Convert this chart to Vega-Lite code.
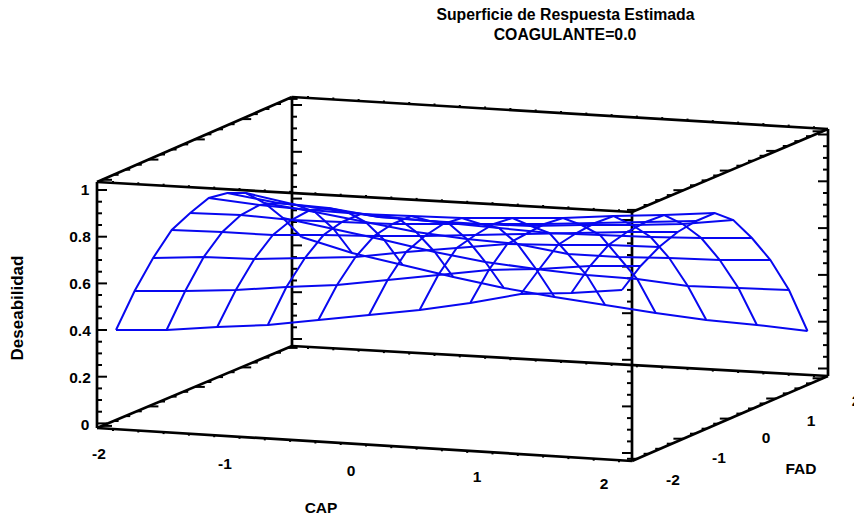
{"$schema":"https://vega.github.io/schema/vega-lite/v6.json","width":854,"height":520,"padding":0,"autosize":{"type":"none"},"background":"white","view":{"stroke":null},
"datasets":{
"mesh":[
{"cap":0,"fad":0,"px":116,"py":330},{"cap":1,"fad":0,"px":166.6,"py":330},{"cap":2,"fad":0,"px":217.2,"py":327},{"cap":3,"fad":0,"px":267.8,"py":325},{"cap":4,"fad":0,"px":318.4,"py":320},{"cap":5,"fad":0,"px":369,"py":315},{"cap":6,"fad":0,"px":419.6,"py":310},{"cap":7,"fad":0,"px":470.2,"py":303},{"cap":8,"fad":0,"px":520.8,"py":294},{"cap":9,"fad":0,"px":571.4,"py":293},{"cap":10,"fad":0,"px":622,"py":290},
{"cap":0,"fad":1,"px":134.6,"py":291},{"cap":1,"fad":1,"px":185.2,"py":291},{"cap":2,"fad":1,"px":235.8,"py":290},{"cap":3,"fad":1,"px":286.4,"py":287},{"cap":4,"fad":1,"px":337,"py":285},{"cap":5,"fad":1,"px":387.6,"py":280},{"cap":6,"fad":1,"px":438.2,"py":275},{"cap":7,"fad":1,"px":488.8,"py":270},{"cap":8,"fad":1,"px":539.4,"py":269},{"cap":9,"fad":1,"px":590,"py":266},{"cap":10,"fad":1,"px":640.6,"py":266},
{"cap":0,"fad":2,"px":153.1,"py":258},{"cap":1,"fad":2,"px":203.7,"py":257},{"cap":2,"fad":2,"px":254.3,"py":259},{"cap":3,"fad":2,"px":304.9,"py":258},{"cap":4,"fad":2,"px":355.5,"py":257},{"cap":5,"fad":2,"px":406.1,"py":252},{"cap":6,"fad":2,"px":456.7,"py":248},{"cap":7,"fad":2,"px":507.3,"py":244},{"cap":8,"fad":2,"px":557.9,"py":245},{"cap":9,"fad":2,"px":608.5,"py":245},{"cap":10,"fad":2,"px":659.1,"py":247},
{"cap":0,"fad":3,"px":171.7,"py":230},{"cap":1,"fad":3,"px":222.3,"py":232},{"cap":2,"fad":3,"px":272.9,"py":235},{"cap":3,"fad":3,"px":323.5,"py":235},{"cap":4,"fad":3,"px":374.1,"py":236},{"cap":5,"fad":3,"px":424.7,"py":236},{"cap":6,"fad":3,"px":475.3,"py":235},{"cap":7,"fad":3,"px":525.9,"py":234},{"cap":8,"fad":3,"px":576.5,"py":233},{"cap":9,"fad":3,"px":627.1,"py":232},{"cap":10,"fad":3,"px":677.7,"py":232},
{"cap":0,"fad":4,"px":190.2,"py":213},{"cap":1,"fad":4,"px":240.8,"py":215},{"cap":2,"fad":4,"px":291.4,"py":220},{"cap":3,"fad":4,"px":342,"py":222},{"cap":4,"fad":4,"px":392.6,"py":224},{"cap":5,"fad":4,"px":443.2,"py":224},{"cap":6,"fad":4,"px":493.8,"py":224},{"cap":7,"fad":4,"px":544.4,"py":224},{"cap":8,"fad":4,"px":595,"py":223},{"cap":9,"fad":4,"px":645.6,"py":222},{"cap":10,"fad":4,"px":696.2,"py":221},
{"cap":0,"fad":5,"px":208.8,"py":198},{"cap":1,"fad":5,"px":259.4,"py":205},{"cap":2,"fad":5,"px":310,"py":210},{"cap":3,"fad":5,"px":360.6,"py":214},{"cap":4,"fad":5,"px":411.2,"py":216},{"cap":5,"fad":5,"px":461.8,"py":218},{"cap":6,"fad":5,"px":512.4,"py":218},{"cap":7,"fad":5,"px":563,"py":218},{"cap":8,"fad":5,"px":613.6,"py":216},{"cap":9,"fad":5,"px":664.2,"py":215},{"cap":10,"fad":5,"px":714.8,"py":213},
{"cap":0,"fad":6,"px":227.3,"py":193},{"cap":1,"fad":6,"px":277.9,"py":203},{"cap":2,"fad":6,"px":328.5,"py":208},{"cap":3,"fad":6,"px":379.1,"py":217},{"cap":4,"fad":6,"px":429.7,"py":221},{"cap":5,"fad":6,"px":480.3,"py":224},{"cap":6,"fad":6,"px":530.9,"py":226},{"cap":7,"fad":6,"px":581.5,"py":225},{"cap":8,"fad":6,"px":632.1,"py":225},{"cap":9,"fad":6,"px":682.7,"py":224},{"cap":10,"fad":6,"px":733.3,"py":220},
{"cap":0,"fad":7,"px":245.9,"py":193},{"cap":1,"fad":7,"px":296.5,"py":205},{"cap":2,"fad":7,"px":347.1,"py":212},{"cap":3,"fad":7,"px":397.7,"py":218},{"cap":4,"fad":7,"px":448.3,"py":223},{"cap":5,"fad":7,"px":498.9,"py":228},{"cap":6,"fad":7,"px":549.5,"py":233},{"cap":7,"fad":7,"px":600.1,"py":235},{"cap":8,"fad":7,"px":650.7,"py":237},{"cap":9,"fad":7,"px":701.3,"py":238},{"cap":10,"fad":7,"px":751.9,"py":238},
{"cap":0,"fad":8,"px":264.4,"py":203},{"cap":1,"fad":8,"px":315,"py":212},{"cap":2,"fad":8,"px":365.6,"py":222},{"cap":3,"fad":8,"px":416.2,"py":232},{"cap":4,"fad":8,"px":466.8,"py":239},{"cap":5,"fad":8,"px":517.4,"py":244},{"cap":6,"fad":8,"px":568,"py":254},{"cap":7,"fad":8,"px":618.6,"py":257},{"cap":8,"fad":8,"px":669.2,"py":258},{"cap":9,"fad":8,"px":719.8,"py":260},{"cap":10,"fad":8,"px":770.4,"py":260},
{"cap":0,"fad":9,"px":283,"py":218},{"cap":1,"fad":9,"px":333.6,"py":229},{"cap":2,"fad":9,"px":384.2,"py":240},{"cap":3,"fad":9,"px":434.8,"py":252},{"cap":4,"fad":9,"px":485.4,"py":262},{"cap":5,"fad":9,"px":536,"py":269},{"cap":6,"fad":9,"px":586.6,"py":275},{"cap":7,"fad":9,"px":637.2,"py":279},{"cap":8,"fad":9,"px":687.8,"py":286},{"cap":9,"fad":9,"px":738.4,"py":288},{"cap":10,"fad":9,"px":789,"py":290},
{"cap":0,"fad":10,"px":301.5,"py":237},{"cap":1,"fad":10,"px":352.1,"py":253},{"cap":2,"fad":10,"px":402.7,"py":265},{"cap":3,"fad":10,"px":453.3,"py":277},{"cap":4,"fad":10,"px":503.9,"py":288},{"cap":5,"fad":10,"px":554.5,"py":297},{"cap":6,"fad":10,"px":605.1,"py":305},{"cap":7,"fad":10,"px":655.7,"py":313},{"cap":8,"fad":10,"px":706.3,"py":320},{"cap":9,"fad":10,"px":756.9,"py":325},{"cap":10,"fad":10,"px":807.5,"py":331}
],
"edges":[
{"px":97,"py":182,"qx":97,"qy":428},{"px":292,"py":97,"qx":292,"qy":346},{"px":632,"py":212,"qx":632,"qy":461},{"px":828,"py":129,"qx":828,"qy":376},
{"px":97,"py":182,"qx":632,"qy":212},{"px":97,"py":182,"qx":292,"qy":97},{"px":292,"py":97,"qx":828,"qy":129},{"px":632,"py":212,"qx":828,"qy":129},
{"px":97,"py":428,"qx":632,"qy":461},{"px":97,"py":428,"qx":292,"qy":346},{"px":292,"py":346,"qx":828,"qy":376},{"px":632,"py":461,"qx":828,"qy":376}
],
"ticks":[
{"px":97,"py":190,"qx":107,"qy":190},{"px":97,"py":201.7,"qx":102,"qy":201.7},{"px":97,"py":213.3,"qx":102,"qy":213.3},{"px":97,"py":225,"qx":102,"qy":225},{"px":97,"py":236.7,"qx":107,"qy":236.7},{"px":97,"py":248.3,"qx":102,"qy":248.3},{"px":97,"py":260,"qx":102,"qy":260},{"px":97,"py":271.7,"qx":102,"qy":271.7},{"px":97,"py":283.4,"qx":107,"qy":283.4},{"px":97,"py":295,"qx":102,"qy":295},{"px":97,"py":306.7,"qx":102,"qy":306.7},{"px":97,"py":318.3,"qx":102,"qy":318.3},{"px":97,"py":330,"qx":107,"qy":330},{"px":97,"py":341.7,"qx":102,"qy":341.7},{"px":97,"py":353.4,"qx":102,"qy":353.4},{"px":97,"py":365,"qx":102,"qy":365},{"px":97,"py":376.7,"qx":107,"qy":376.7},{"px":97,"py":388.4,"qx":102,"qy":388.4},{"px":97,"py":400,"qx":102,"qy":400},{"px":97,"py":411.7,"qx":102,"qy":411.7},{"px":97,"py":423.4,"qx":107,"qy":423.4},
{"px":292,"py":105,"qx":302,"qy":105},{"px":292,"py":116.7,"qx":297,"qy":116.7},{"px":292,"py":128.4,"qx":297,"qy":128.4},{"px":292,"py":140,"qx":297,"qy":140},{"px":292,"py":151.8,"qx":302,"qy":151.8},{"px":292,"py":163.5,"qx":297,"qy":163.5},{"px":292,"py":175.2,"qx":297,"qy":175.2},{"px":292,"py":186.9,"qx":297,"qy":186.9},{"px":292,"py":198.6,"qx":302,"qy":198.6},{"px":292,"py":210.3,"qx":297,"qy":210.3},{"px":292,"py":222,"qx":297,"qy":222},{"px":292,"py":233.7,"qx":297,"qy":233.7},{"px":292,"py":245.4,"qx":302,"qy":245.4},{"px":292,"py":257.1,"qx":297,"qy":257.1},{"px":292,"py":268.8,"qx":297,"qy":268.8},{"px":292,"py":280.5,"qx":297,"qy":280.5},{"px":292,"py":292.2,"qx":302,"qy":292.2},{"px":292,"py":303.9,"qx":297,"qy":303.9},{"px":292,"py":315.6,"qx":297,"qy":315.6},{"px":292,"py":327.3,"qx":297,"qy":327.3},{"px":292,"py":339,"qx":302,"qy":339},
{"px":632,"py":220,"qx":622,"qy":220},{"px":632,"py":231.7,"qx":627,"qy":231.7},{"px":632,"py":243.3,"qx":627,"qy":243.3},{"px":632,"py":255,"qx":627,"qy":255},{"px":632,"py":266.6,"qx":622,"qy":266.6},{"px":632,"py":278.3,"qx":627,"qy":278.3},{"px":632,"py":289.9,"qx":627,"qy":289.9},{"px":632,"py":301.6,"qx":627,"qy":301.6},{"px":632,"py":313.2,"qx":622,"qy":313.2},{"px":632,"py":324.9,"qx":627,"qy":324.9},{"px":632,"py":336.5,"qx":627,"qy":336.5},{"px":632,"py":348.2,"qx":627,"qy":348.2},{"px":632,"py":359.8,"qx":622,"qy":359.8},{"px":632,"py":371.5,"qx":627,"qy":371.5},{"px":632,"py":383.1,"qx":627,"qy":383.1},{"px":632,"py":394.8,"qx":627,"qy":394.8},{"px":632,"py":406.4,"qx":622,"qy":406.4},{"px":632,"py":418.1,"qx":627,"qy":418.1},{"px":632,"py":429.7,"qx":627,"qy":429.7},{"px":632,"py":441.4,"qx":627,"qy":441.4},{"px":632,"py":453,"qx":622,"qy":453},
{"px":828,"py":134.5,"qx":818,"qy":134.5},{"px":828,"py":146.2,"qx":823,"qy":146.2},{"px":828,"py":157.9,"qx":823,"qy":157.9},{"px":828,"py":169.6,"qx":823,"qy":169.6},{"px":828,"py":181.3,"qx":818,"qy":181.3},{"px":828,"py":193,"qx":823,"qy":193},{"px":828,"py":204.7,"qx":823,"qy":204.7},{"px":828,"py":216.4,"qx":823,"qy":216.4},{"px":828,"py":228.1,"qx":818,"qy":228.1},{"px":828,"py":239.8,"qx":823,"qy":239.8},{"px":828,"py":251.5,"qx":823,"qy":251.5},{"px":828,"py":263.2,"qx":823,"qy":263.2},{"px":828,"py":274.9,"qx":818,"qy":274.9},{"px":828,"py":286.6,"qx":823,"qy":286.6},{"px":828,"py":298.3,"qx":823,"qy":298.3},{"px":828,"py":310,"qx":823,"qy":310},{"px":828,"py":321.7,"qx":818,"qy":321.7},{"px":828,"py":333.4,"qx":823,"qy":333.4},{"px":828,"py":345.1,"qx":823,"qy":345.1},{"px":828,"py":356.8,"qx":823,"qy":356.8},{"px":828,"py":368.5,"qx":818,"qy":368.5},
{"px":102,"py":179.8,"qx":112,"qy":179.8},{"px":113.6,"py":174.8,"qx":118.6,"qy":174.8},{"px":125.2,"py":169.7,"qx":130.2,"qy":169.7},{"px":136.8,"py":164.7,"qx":141.8,"qy":164.7},{"px":148.4,"py":159.6,"qx":158.4,"qy":159.6},{"px":160,"py":154.5,"qx":165,"qy":154.5},{"px":171.6,"py":149.5,"qx":176.6,"qy":149.5},{"px":183.2,"py":144.4,"qx":188.2,"qy":144.4},{"px":194.8,"py":139.4,"qx":204.8,"qy":139.4},{"px":206.4,"py":134.3,"qx":211.4,"qy":134.3},{"px":218,"py":129.3,"qx":223,"qy":129.3},{"px":229.6,"py":124.2,"qx":234.6,"qy":124.2},{"px":241.2,"py":119.1,"qx":251.2,"qy":119.1},{"px":252.8,"py":114.1,"qx":257.8,"qy":114.1},{"px":264.4,"py":109,"qx":269.4,"qy":109},{"px":276,"py":104,"qx":281,"qy":104},{"px":287.6,"py":98.9,"qx":297.6,"qy":98.9},
{"px":102,"py":425.9,"qx":112,"qy":425.9},{"px":113.6,"py":421,"qx":118.6,"qy":421},{"px":125.2,"py":416.1,"qx":130.2,"qy":416.1},{"px":136.8,"py":411.3,"qx":141.8,"qy":411.3},{"px":148.4,"py":406.4,"qx":158.4,"qy":406.4},{"px":160,"py":401.5,"qx":165,"qy":401.5},{"px":171.6,"py":396.6,"qx":176.6,"qy":396.6},{"px":183.2,"py":391.8,"qx":188.2,"qy":391.8},{"px":194.8,"py":386.9,"qx":204.8,"qy":386.9},{"px":206.4,"py":382,"qx":211.4,"qy":382},{"px":218,"py":377.1,"qx":223,"qy":377.1},{"px":229.6,"py":372.2,"qx":234.6,"qy":372.2},{"px":241.2,"py":367.4,"qx":251.2,"qy":367.4},{"px":252.8,"py":362.5,"qx":257.8,"qy":362.5},{"px":264.4,"py":357.6,"qx":269.4,"qy":357.6},{"px":276,"py":352.7,"qx":281,"qy":352.7},{"px":287.6,"py":347.9,"qx":297.6,"qy":347.9},
{"px":637,"py":209.9,"qx":627,"qy":209.9},{"px":648.6,"py":205,"qx":643.6,"qy":205},{"px":660.2,"py":200.1,"qx":655.2,"qy":200.1},{"px":671.8,"py":195.1,"qx":666.8,"qy":195.1},{"px":683.4,"py":190.2,"qx":673.4,"qy":190.2},{"px":695,"py":185.3,"qx":690,"qy":185.3},{"px":706.6,"py":180.4,"qx":701.6,"qy":180.4},{"px":718.2,"py":175.5,"qx":713.2,"qy":175.5},{"px":729.8,"py":170.6,"qx":719.8,"qy":170.6},{"px":741.4,"py":165.7,"qx":736.4,"qy":165.7},{"px":753,"py":160.8,"qx":748,"qy":160.8},{"px":764.6,"py":155.8,"qx":759.6,"qy":155.8},{"px":776.2,"py":150.9,"qx":766.2,"qy":150.9},{"px":787.8,"py":146,"qx":782.8,"qy":146},{"px":799.4,"py":141.1,"qx":794.4,"qy":141.1},{"px":811,"py":136.2,"qx":806,"qy":136.2},{"px":822.6,"py":131.3,"qx":812.6,"qy":131.3},
{"px":637,"py":458.8,"qx":627,"qy":458.8},{"px":648.6,"py":453.8,"qx":643.6,"qy":453.8},{"px":660.2,"py":448.8,"qx":655.2,"qy":448.8},{"px":671.8,"py":443.7,"qx":666.8,"qy":443.7},{"px":683.4,"py":438.7,"qx":673.4,"qy":438.7},{"px":695,"py":433.7,"qx":690,"qy":433.7},{"px":706.6,"py":428.7,"qx":701.6,"qy":428.7},{"px":718.2,"py":423.7,"qx":713.2,"qy":423.7},{"px":729.8,"py":418.6,"qx":719.8,"qy":418.6},{"px":741.4,"py":413.6,"qx":736.4,"qy":413.6},{"px":753,"py":408.5,"qx":748,"qy":408.5},{"px":764.6,"py":403.5,"qx":759.6,"qy":403.5},{"px":776.2,"py":398.5,"qx":766.2,"qy":398.5},{"px":787.8,"py":393.4,"qx":782.8,"qy":393.4},{"px":799.4,"py":388.4,"qx":794.4,"qy":388.4},{"px":811,"py":383.4,"qx":806,"qy":383.4},{"px":822.6,"py":378.3,"qx":812.6,"qy":378.3},
{"px":113,"py":182.9,"qx":113,"qy":180.9},{"px":138.3,"py":184.3,"qx":138.3,"qy":182.3},{"px":163.6,"py":185.7,"qx":163.6,"qy":183.7},{"px":188.9,"py":187.2,"qx":188.9,"qy":185.2},{"px":214.2,"py":188.6,"qx":214.2,"qy":186.6},{"px":239.5,"py":190,"qx":239.5,"qy":188},{"px":264.8,"py":191.4,"qx":264.8,"qy":189.4},{"px":290.1,"py":192.8,"qx":290.1,"qy":190.8},{"px":315.4,"py":194.3,"qx":315.4,"qy":192.3},{"px":340.7,"py":195.7,"qx":340.7,"qy":193.7},{"px":366,"py":197.1,"qx":366,"qy":195.1},{"px":391.3,"py":198.5,"qx":391.3,"qy":196.5},{"px":416.6,"py":199.9,"qx":416.6,"qy":197.9},{"px":441.9,"py":201.3,"qx":441.9,"qy":199.3},{"px":467.2,"py":202.8,"qx":467.2,"qy":200.8},{"px":492.5,"py":204.2,"qx":492.5,"qy":202.2},{"px":517.8,"py":205.6,"qx":517.8,"qy":203.6},{"px":543.1,"py":207,"qx":543.1,"qy":205},{"px":568.4,"py":208.4,"qx":568.4,"qy":206.4},{"px":593.7,"py":209.9,"qx":593.7,"qy":207.9},{"px":619,"py":211.3,"qx":619,"qy":209.3},
{"px":113,"py":429,"qx":113,"qy":431},{"px":138.3,"py":430.5,"qx":138.3,"qy":432.5},{"px":163.6,"py":432.1,"qx":163.6,"qy":434.1},{"px":188.9,"py":433.7,"qx":188.9,"qy":435.7},{"px":214.2,"py":435.2,"qx":214.2,"qy":437.2},{"px":239.5,"py":436.8,"qx":239.5,"qy":438.8},{"px":264.8,"py":438.4,"qx":264.8,"qy":440.4},{"px":290.1,"py":439.9,"qx":290.1,"qy":441.9},{"px":315.4,"py":441.5,"qx":315.4,"qy":443.5},{"px":340.7,"py":443,"qx":340.7,"qy":445},{"px":366,"py":444.6,"qx":366,"qy":446.6},{"px":391.3,"py":446.2,"qx":391.3,"qy":448.2},{"px":416.6,"py":447.7,"qx":416.6,"qy":449.7},{"px":441.9,"py":449.3,"qx":441.9,"qy":451.3},{"px":467.2,"py":450.9,"qx":467.2,"qy":452.9},{"px":492.5,"py":452.4,"qx":492.5,"qy":454.4},{"px":517.8,"py":454,"qx":517.8,"qy":456},{"px":543.1,"py":455.6,"qx":543.1,"qy":457.6},{"px":568.4,"py":457.1,"qx":568.4,"qy":459.1},{"px":593.7,"py":458.7,"qx":593.7,"qy":460.7},{"px":619,"py":460.2,"qx":619,"qy":462.2},
{"px":308,"py":98,"qx":308,"qy":96},{"px":333.3,"py":99.5,"qx":333.3,"qy":97.5},{"px":358.6,"py":101,"qx":358.6,"qy":99},{"px":383.9,"py":102.5,"qx":383.9,"qy":100.5},{"px":409.2,"py":104,"qx":409.2,"qy":102},{"px":434.5,"py":105.5,"qx":434.5,"qy":103.5},{"px":459.8,"py":107,"qx":459.8,"qy":105},{"px":485.1,"py":108.5,"qx":485.1,"qy":106.5},{"px":510.4,"py":110,"qx":510.4,"qy":108},{"px":535.7,"py":111.5,"qx":535.7,"qy":109.5},{"px":561,"py":113.1,"qx":561,"qy":111.1},{"px":586.3,"py":114.6,"qx":586.3,"qy":112.6},{"px":611.6,"py":116.1,"qx":611.6,"qy":114.1},{"px":636.9,"py":117.6,"qx":636.9,"qy":115.6},{"px":662.2,"py":119.1,"qx":662.2,"qy":117.1},{"px":687.5,"py":120.6,"qx":687.5,"qy":118.6},{"px":712.8,"py":122.1,"qx":712.8,"qy":120.1},{"px":738.1,"py":123.6,"qx":738.1,"qy":121.6},{"px":763.4,"py":125.1,"qx":763.4,"qy":123.1},{"px":788.7,"py":126.6,"qx":788.7,"qy":124.6},{"px":814,"py":128.2,"qx":814,"qy":126.2},
{"px":308,"py":346.9,"qx":308,"qy":348.9},{"px":333.3,"py":348.3,"qx":333.3,"qy":350.3},{"px":358.6,"py":349.7,"qx":358.6,"qy":351.7},{"px":383.9,"py":351.1,"qx":383.9,"qy":353.1},{"px":409.2,"py":352.6,"qx":409.2,"qy":354.6},{"px":434.5,"py":354,"qx":434.5,"qy":356},{"px":459.8,"py":355.4,"qx":459.8,"qy":357.4},{"px":485.1,"py":356.8,"qx":485.1,"qy":358.8},{"px":510.4,"py":358.2,"qx":510.4,"qy":360.2},{"px":535.7,"py":359.6,"qx":535.7,"qy":361.6},{"px":561,"py":361.1,"qx":561,"qy":363.1},{"px":586.3,"py":362.5,"qx":586.3,"qy":364.5},{"px":611.6,"py":363.9,"qx":611.6,"qy":365.9},{"px":636.9,"py":365.3,"qx":636.9,"qy":367.3},{"px":662.2,"py":366.7,"qx":662.2,"qy":368.7},{"px":687.5,"py":368.1,"qx":687.5,"qy":370.1},{"px":712.8,"py":369.6,"qx":712.8,"qy":371.6},{"px":738.1,"py":371,"qx":738.1,"qy":373},{"px":763.4,"py":372.4,"qx":763.4,"qy":374.4},{"px":788.7,"py":373.8,"qx":788.7,"qy":375.8},{"px":814,"py":375.2,"qx":814,"qy":377.2}
],
"titles":[{"t":"Superficie de Respuesta Estimada","px":565.5,"py":15},{"t":"COAGULANTE=0.0","px":565,"py":35}],
"labels":[
{"t":"1","px":85,"py":190},{"t":"0.8","px":80,"py":237},{"t":"0.6","px":80,"py":284},{"t":"0.4","px":80,"py":331},{"t":"0.2","px":80,"py":378},{"t":"0","px":85,"py":425},
{"t":"-2","px":99,"py":454},{"t":"-1","px":225,"py":464},{"t":"0","px":351,"py":471},{"t":"1","px":477,"py":477},{"t":"2","px":604,"py":484},{"t":"CAP","px":321,"py":508},
{"t":"-2","px":673,"py":480},{"t":"-1","px":719,"py":458},{"t":"0","px":766,"py":438},{"t":"1","px":811,"py":421},{"t":"2","px":856,"py":401},{"t":"FAD","px":801,"py":469}
]},
"data":{"name":"mesh"},
"encoding":{"x":{"field":"px","type":"quantitative","scale":{"domain":[0,854],"nice":false,"zero":false},"axis":null},"y":{"field":"py","type":"quantitative","scale":{"domain":[520,0],"nice":false,"zero":false},"axis":null}},
"layer":[
{"data":{"name":"edges"},"mark":{"type":"rule","color":"black","strokeWidth":2.7},"encoding":{"x2":{"field":"qx"},"y2":{"field":"qy"}}},
{"data":{"name":"ticks"},"mark":{"type":"rule","color":"black","strokeWidth":2},"encoding":{"x2":{"field":"qx"},"y2":{"field":"qy"}}},
{"mark":{"type":"line","color":"#0808f0","strokeWidth":2,"interpolate":"linear","clip":false},"encoding":{"detail":{"field":"fad"},"order":{"field":"cap"}}},
{"mark":{"type":"line","color":"#0808f0","strokeWidth":2,"interpolate":"linear","clip":false},"encoding":{"detail":{"field":"cap"},"order":{"field":"fad"}}},
{"data":{"name":"titles"},"mark":{"type":"text","font":"Liberation Sans","fontWeight":"bold","fontSize":15.8,"color":"black","align":"center","baseline":"middle"},"encoding":{"text":{"field":"t"}}},
{"data":{"name":"labels"},"mark":{"type":"text","font":"Liberation Sans","fontWeight":"bold","fontSize":15.5,"color":"black","align":"center","baseline":"middle"},"encoding":{"text":{"field":"t"}}},
{"data":{"values":[{"t":"Deseabilidad","px":18,"py":308}]},"mark":{"type":"text","font":"Liberation Sans","fontWeight":"bold","fontSize":17,"color":"black","align":"center","baseline":"middle","angle":270},"encoding":{"text":{"field":"t"}}}
]}
